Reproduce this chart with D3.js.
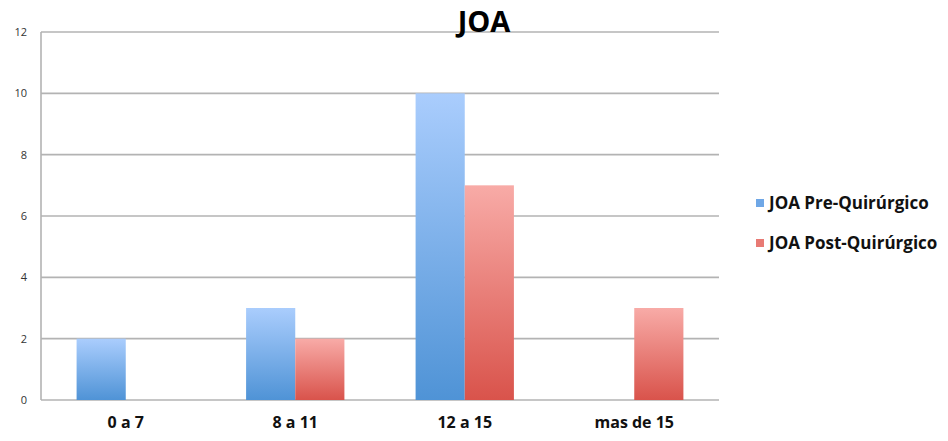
<!DOCTYPE html>
<html><head><meta charset="utf-8">
<script src="https://cdn.jsdelivr.net/npm/d3@7"></script>
<style>body{margin:0;background:#fff}svg{display:block}</style>
</head><body>
<svg id="c" width="948" height="441"></svg>
<script>
const categories = ["0 a 7", "8 a 11", "12 a 15", "mas de 15"];
const seriesNames = ["JOA Pre-Quirúrgico", "JOA Post-Quirúrgico"];
const preValues = [2, 3, 10, 0];
const postValues = [0, 2, 7, 3];
const yTicks = [0, 2, 4, 6, 8, 10, 12];
const title = "JOA";

const svg = d3.select("#c");
const m = {left: 41, right: 229, top: 32, bottom: 41};
const W = 948, H = 441;
const x0 = d3.scaleBand().domain(categories).range([m.left, W - m.right]).paddingInner(0.42).paddingOuter(0.21);
const x1 = d3.scaleBand().domain(seriesNames).range([0, x0.bandwidth()]);
const y = d3.scaleLinear().domain([0, 12]).range([H - m.bottom, m.top]);
const FONT = "'Open Sans', Lato, sans-serif";

const defs = svg.append("defs");
const grads = [["gBlue", "#aacdfd", "#4f93d6"], ["gRed", "#f8aba7", "#d9534b"]];
grads.forEach(([id, a, b]) => {
  const g = defs.append("linearGradient").attr("id", id).attr("x1", 0).attr("y1", 0).attr("x2", 0).attr("y2", 1);
  g.append("stop").attr("offset", "0%").attr("stop-color", a);
  g.append("stop").attr("offset", "100%").attr("stop-color", b);
});
const fills = ["url(#gBlue)", "url(#gRed)"];
const legendColors = ["#6fa7e6", "#e87a74"];

// gridlines
svg.append("g").selectAll("line").data(yTicks).join("line")
  .attr("x1", m.left).attr("x2", W - m.right)
  .attr("y1", d => y(d)).attr("y2", d => y(d))
  .attr("stroke", "#b3b3b3").attr("stroke-width", 1.6);
// y axis line
svg.append("line").attr("x1", m.left).attr("x2", m.left).attr("y1", y(12)).attr("y2", y(0))
  .attr("stroke", "#b3b3b3").attr("stroke-width", 1.6);

// y axis labels
const yAxis = d3.axisLeft(y).tickValues(yTicks).tickSize(0).tickPadding(14);
const ga = svg.append("g").attr("transform", `translate(${m.left},0)`).call(yAxis);
ga.select(".domain").remove();
ga.selectAll("text").attr("font-family", FONT).attr("font-size", 11).attr("fill", "#333");

// bars
const data = categories.map((c, i) => ({c, vals: [preValues[i], postValues[i]]}));
const groups = svg.append("g").selectAll("g").data(data).join("g")
  .attr("transform", d => `translate(${x0(d.c)},0)`);
groups.selectAll("rect").data(d => d.vals.map((v, j) => ({v, j}))).join("rect")
  .filter(d => d.v > 0)
  .attr("x", d => x1(seriesNames[d.j]))
  .attr("width", x1.bandwidth())
  .attr("y", d => y(d.v))
  .attr("height", d => y(0) - y(d.v))
  .attr("fill", d => fills[d.j]);

// x axis labels
const xAxis = d3.axisBottom(x0).tickSize(0).tickPadding(17);
const gx = svg.append("g").attr("transform", `translate(0,${y(0)})`).call(xAxis);
gx.select(".domain").remove();
gx.selectAll("text").attr("font-family", FONT).attr("font-size", 16).attr("font-weight", "bold").attr("fill", "#111");

// title
svg.append("text").attr("x", 484).attr("y", 32).attr("text-anchor", "middle")
  .attr("font-family", FONT).attr("font-size", 29).attr("font-weight", "bold").attr("fill", "#000").text(title);

// legend
const lg = svg.append("g").selectAll("g").data(seriesNames).join("g")
  .attr("transform", (d, i) => `translate(756,${203 + i * 40})`);
lg.append("rect").attr("x", 0).attr("y", -4).attr("width", 8).attr("height", 8).attr("fill", (d, i) => legendColors[i]);
lg.append("text").attr("x", 13).attr("y", 6).text(d => d)
  .attr("font-family", FONT).attr("font-size", 17).attr("font-weight", "bold").attr("fill", "#111");
</script>
</body></html>
